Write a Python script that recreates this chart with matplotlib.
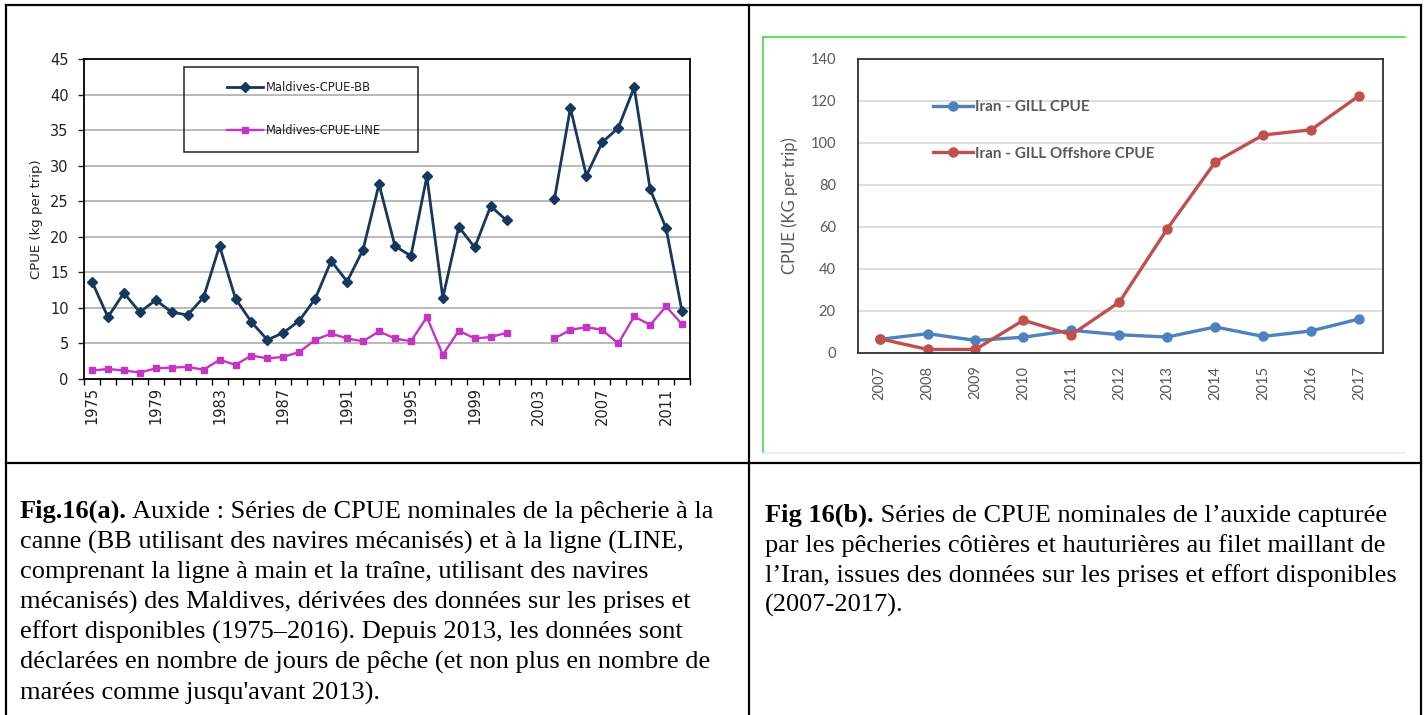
import numpy as np
import matplotlib.pyplot as plt
from matplotlib.lines import Line2D
from matplotlib.patches import Rectangle

W, H = 1426, 715

# --- données (a) Maldives, 1975-2012 ---
annees_mdv = np.arange(1975, 2013)
cpue_bb = [13.7, 8.7, 12.1, 9.4, 11.1, 9.4, 9.0, 11.5, 18.7, 11.3,
           8.0, 5.5, 6.5, 8.2, 11.3, 16.6, 13.7, 18.2, 27.4, 18.7,
           17.3, 28.5, 11.4, 21.4, 18.5, 24.3, 22.3, np.nan, np.nan, 25.3,
           38.1, 28.6, 33.3, 35.3, 41.0, 26.7, 21.2, 9.5]
cpue_line = [1.2, 1.4, 1.2, 0.9, 1.5, 1.6, 1.7, 1.3, 2.7, 2.0,
             3.3, 2.9, 3.1, 3.8, 5.5, 6.4, 5.7, 5.3, 6.7, 5.7,
             5.3, 8.7, 3.4, 6.8, 5.7, 5.9, 6.5, np.nan, np.nan, 5.7,
             6.9, 7.3, 6.9, 5.0, 8.8, 7.6, 10.2, 7.7]

# --- données (b) Iran, 2007-2017 ---
annees_iran = np.arange(2007, 2018)
gill = [6.5, 9.2, 6.0, 7.5, 10.8, 8.7, 7.6, 12.4, 7.9, 10.5, 16.2]
gill_offshore = [6.8, 1.7, 1.7, 15.6, 8.7, 24.2, 59.1, 90.9, 103.8, 106.3, 122.5]


def px(x, y):
    # pixels (origine en haut a gauche) -> fraction de figure
    return x / W, 1 - y / H


fig = plt.figure(figsize=(W / 100, H / 100), dpi=100)

# cadre du tableau
for (x0, y0), (x1, y1) in [((6, 5), (1421, 5)), ((6, 5), (6, 715)),
                           ((1421, 5), (1421, 715)), ((749, 5), (749, 715)),
                           ((6, 463), (1421, 463))]:
    a, b = px(x0, y0)
    c, d = px(x1, y1)
    fig.add_artist(Line2D([a, c], [b, d], color='black', lw=1.6))

# bordure verte du graphique Excel
for (x0, y0), (x1, y1), col in [((763, 37), (1405, 37), '#33dd33'),
                                ((763, 37), (763, 453), '#33dd33'),
                                ((763, 453), (1405, 453), '#d6f5d6')]:
    a, b = px(x0, y0)
    c, d = px(x1, y1)
    fig.add_artist(Line2D([a, c], [b, d], color=col, lw=1.1))

# ---------------- (a) ----------------
ax1 = fig.add_axes([84 / W, 1 - 379 / H, 606 / W, 320 / H])
ax1.plot(annees_mdv, cpue_bb, color='#17375e', lw=2.0, marker='D', ms=5,
         label='Maldives-CPUE-BB')
ax1.plot(annees_mdv, cpue_line, color='#c435c4', lw=1.7, marker='s', ms=4,
         label='Maldives-CPUE-LINE')
ax1.set_xlim(1974.5, 2012.5)
ax1.set_ylim(0, 45)
ax1.set_yticks(np.arange(0, 46, 5))
ax1.set_xticks(np.arange(1975, 2013, 4))
ax1.set_xticks(np.arange(1974.5, 2013, 1), minor=True)
ax1.tick_params(axis='x', which='major', length=0, pad=6, labelrotation=90,
                labelsize=10.5, colors='#222222')
ax1.tick_params(axis='x', which='minor', length=4, width=1, direction='out')
ax1.tick_params(axis='y', length=4, width=1, pad=7, labelsize=10.5,
                colors='#222222')
ax1.grid(axis='y', color='#a6a6a6', lw=1.1)
ax1.set_axisbelow(True)
for s in ax1.spines.values():
    s.set_color('black')
    s.set_linewidth(1.3)
ax1.set_ylabel('CPUE (kg per trip)', fontsize=9.5, color='#222222', labelpad=5)

ax1.add_patch(Rectangle(((184 - 84) / 606, (379 - 152) / 320), 234 / 606, 85 / 320,
                        transform=ax1.transAxes, fill=False, ec='#222222', lw=1.1,
                        zorder=5, clip_on=False))
ax1.legend(loc='upper left', bbox_to_anchor=px(227, 81), bbox_transform=fig.transFigure,
           frameon=False, fontsize=8.3, handlelength=3.1, handletextpad=0.3,
           labelspacing=2.6, borderpad=0, borderaxespad=0, labelcolor='#222222')

# ---------------- (b) ----------------
ax2 = fig.add_axes([858 / W, 1 - 353 / H, 525 / W, 294 / H])
ax2.plot(annees_iran, gill, color='#4f81bd', lw=2.4, marker='o', ms=6.5,
         label='Iran - GILL CPUE')
ax2.plot(annees_iran, gill_offshore, color='#c0504d', lw=2.4, marker='o', ms=6.5,
         label='Iran - GILL Offshore CPUE')
ax2.set_xlim(2006.55, 2017.5)
ax2.set_ylim(0, 140)
ax2.set_yticks(np.arange(0, 141, 20))
ax2.set_xticks(annees_iran)
ax2.tick_params(axis='x', length=0, pad=9, labelrotation=90, labelsize=10.5,
                colors='#595959')
ax2.tick_params(axis='y', length=0, pad=16, labelsize=10.5, colors='#595959')
for lab in ax2.get_xticklabels() + ax2.get_yticklabels():
    lab.set_family('Lato')
ax2.grid(axis='y', color='#d9d9d9', lw=1.2)
ax2.set_axisbelow(True)
for s in ax2.spines.values():
    s.set_color('#303030')
    s.set_linewidth(1.3)
ax2.set_ylabel('CPUE (KG per trip)', fontsize=12, color='#595959',
               family='Lato', labelpad=9)
leg = ax2.legend(loc='upper left', bbox_to_anchor=px(933, 100),
                 bbox_transform=fig.transFigure, frameon=False,
                 handlelength=2.6, handletextpad=0.15, labelspacing=2.15,
                 borderpad=0, borderaxespad=0,
                 prop={'family': 'Lato', 'weight': 'bold', 'size': 11})
for t in leg.get_texts():
    t.set_color('#595959')

# ---------------- légendes des figures ----------------
cap_a = ["canne (BB utilisant des navires mécanisés) et à la ligne (LINE,",
         "comprenant la ligne à main et la traîne, utilisant des navires",
         "mécanisés) des Maldives, dérivées des données sur les prises et",
         "effort disponibles (1975–2016). Depuis 2013, les données sont",
         "déclarées en nombre de jours de pêche (et non plus en nombre de",
         "marées comme jusqu'avant 2013)."]
cap_b = ["par les pêcheries côtières et hauturières au filet maillant de",
         "l’Iran, issues des données sur les prises et effort disponibles",
         "(2007-2017)."]
serif = dict(family='Liberation Serif', fontsize=19, va='baseline', ha='left')


def caption(x, y, bold, first, rest, step=30.2):
    tb = fig.text(*px(x, y), bold, weight='bold', **serif)
    fig.add_artist(plt.Annotation(first, xy=(1, px(x, y)[1]),
                                  xycoords=(tb, 'figure fraction'), **serif))
    for i, line in enumerate(rest):
        fig.text(*px(x, y + step * (i + 1)), line, **serif)


caption(20, 518, 'Fig.16(a).', ' Auxide : Séries de CPUE nominales de la pêcherie à la', cap_a)
caption(765, 522, 'Fig 16(b).', ' Séries de CPUE nominales de l’auxide capturée', cap_b, step=30)

fig.savefig('out.png', dpi=100)
